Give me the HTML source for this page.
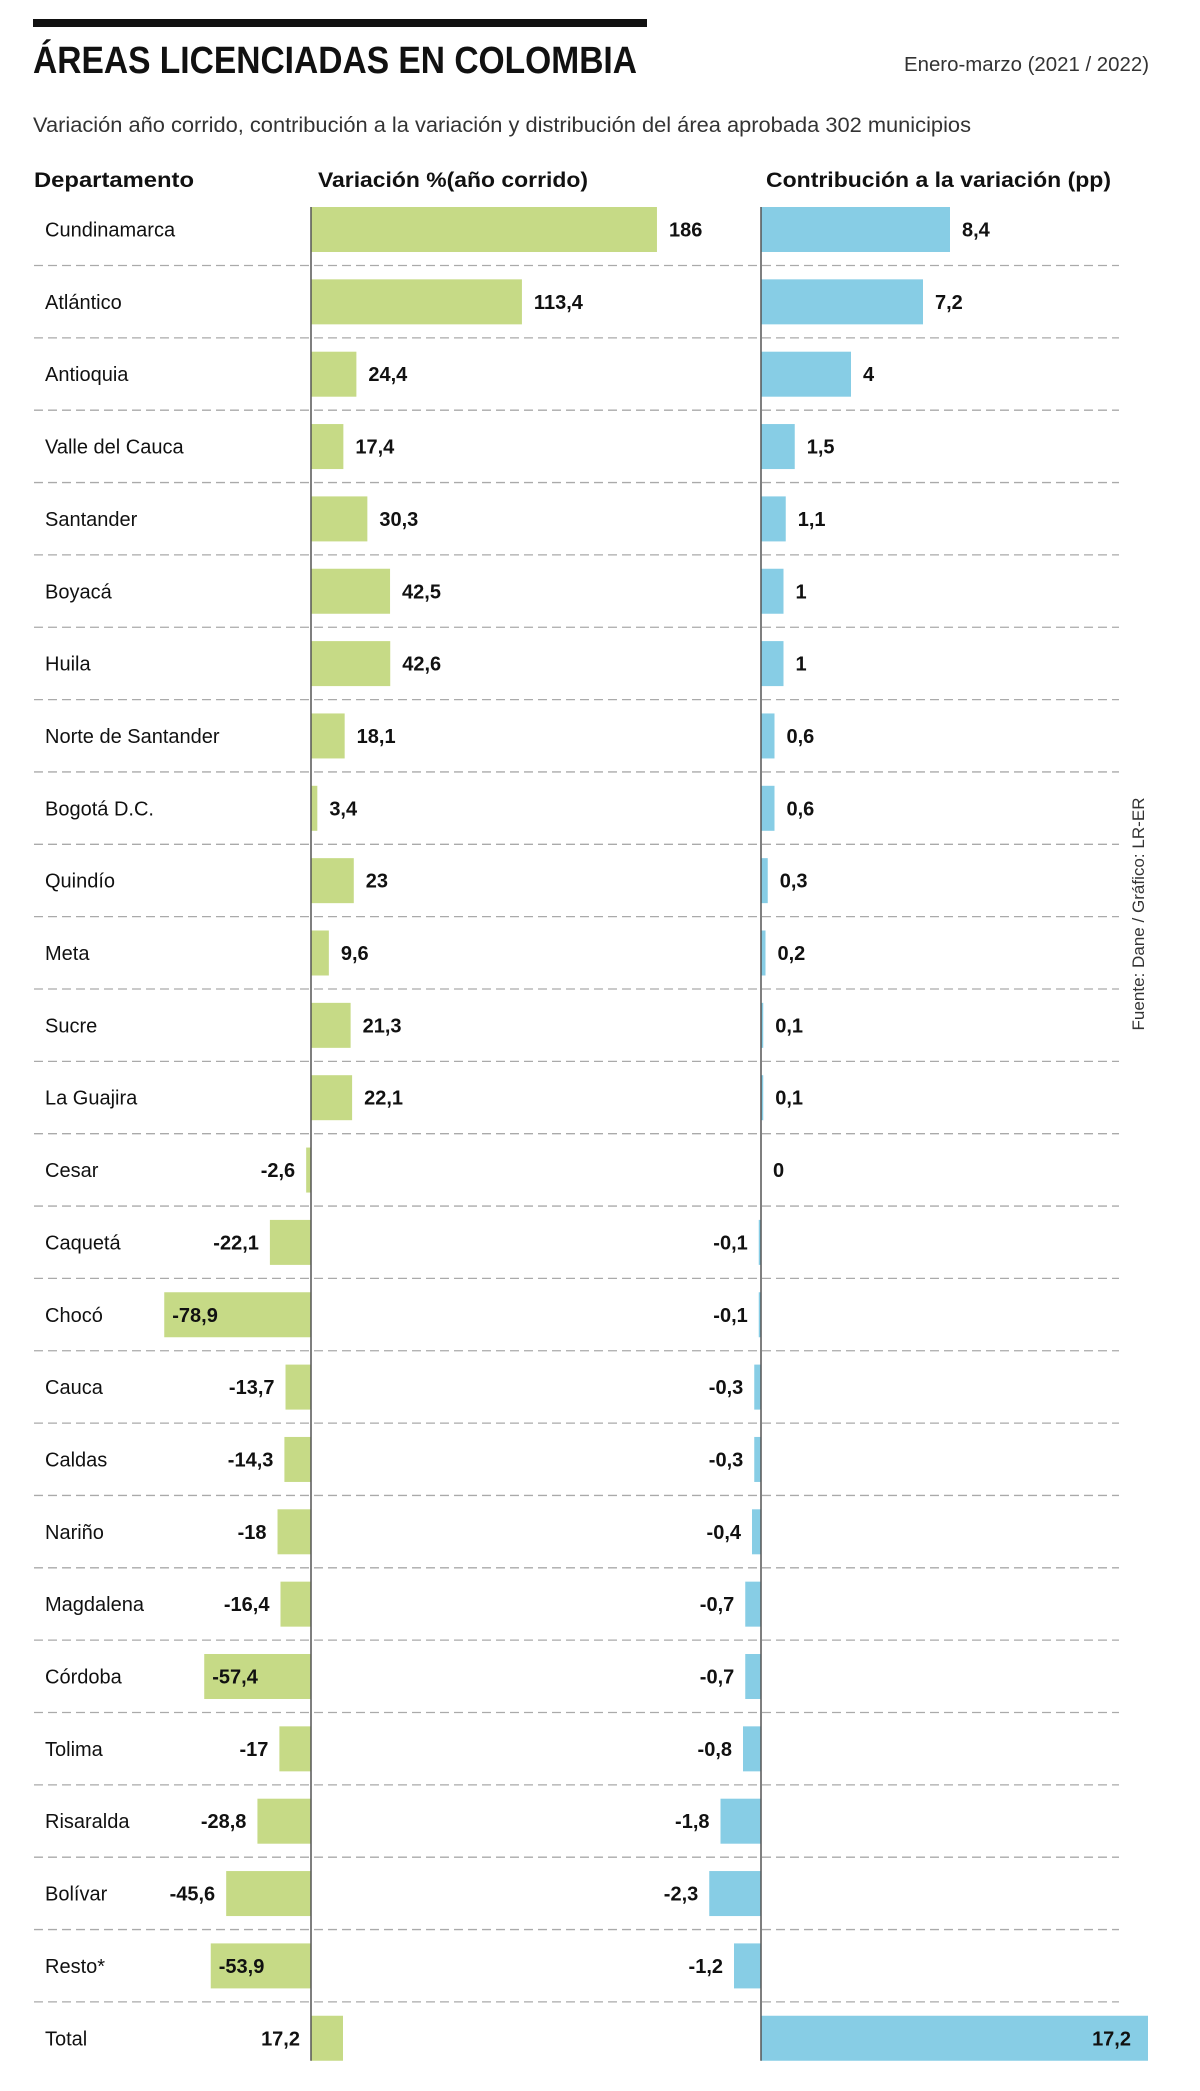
<!DOCTYPE html>
<html><head><meta charset="utf-8">
<style>
html,body{margin:0;padding:0;background:#fff;}
svg{display:block;font-family:"Liberation Sans",sans-serif;}
</style></head>
<body>
<svg id="chart" width="1200" height="2091" viewBox="0 0 1200 2091" xmlns="http://www.w3.org/2000/svg">
  <rect x="33" y="19" width="614" height="8" fill="#111"/>
  <text x="33" y="73" font-size="38" font-weight="bold" fill="#111" textLength="604" lengthAdjust="spacingAndGlyphs">ÁREAS LICENCIADAS EN COLOMBIA</text>
  <text x="1149" y="71" font-size="20" fill="#333" text-anchor="end" textLength="245" lengthAdjust="spacingAndGlyphs">Enero-marzo (2021 / 2022)</text>
  <text x="33" y="132" font-size="21" fill="#333" textLength="938" lengthAdjust="spacingAndGlyphs">Variación año corrido, contribución a la variación y distribución del área aprobada 302 municipios</text>
  <text x="34" y="187" font-size="21" font-weight="bold" fill="#111" textLength="160" lengthAdjust="spacingAndGlyphs">Departamento</text>
  <text x="318" y="187" font-size="21" font-weight="bold" fill="#111" textLength="270" lengthAdjust="spacingAndGlyphs">Variación %(año corrido)</text>
  <text x="766" y="187" font-size="21" font-weight="bold" fill="#111" textLength="345" lengthAdjust="spacingAndGlyphs">Contribución a la variación  (pp)</text>
  <text transform="translate(1144,914) rotate(-90)" font-size="17" fill="#333" text-anchor="middle" textLength="233" lengthAdjust="spacingAndGlyphs">Fuente: Dane / Gráfico: LR-ER</text>
  <g id="rows"></g>
</svg>
<script>
const categories = ["Cundinamarca","Atlántico","Antioquia","Valle del Cauca","Santander","Boyacá","Huila","Norte de Santander","Bogotá D.C.","Quindío","Meta","Sucre","La Guajira","Cesar","Caquetá","Chocó","Cauca","Caldas","Nariño","Magdalena","Córdoba","Tolima","Risaralda","Bolívar","Resto*","Total"];
const variacion = [186,113.4,24.4,17.4,30.3,42.5,42.6,18.1,3.4,23,9.6,21.3,22.1,-2.6,-22.1,-78.9,-13.7,-14.3,-18,-16.4,-57.4,-17,-28.8,-45.6,-53.9,17.2];
const contribucion = [8.4,7.2,4,1.5,1.1,1,1,0.6,0.6,0.3,0.2,0.1,0.1,0,-0.1,-0.1,-0.3,-0.3,-0.4,-0.7,-0.7,-0.8,-1.8,-2.3,-1.2,17.2];

const NS="http://www.w3.org/2000/svg";
const g=document.getElementById('rows');
const axis1=311, axis2=761, k1=1.86, k2=22.5;
const y0=229.5, step=72.35, barH=45;
const x1=v=>axis1+v*k1, x2=v=>axis2+v*k2;
const rowY=i=>y0+i*step;
const fmt=v=>String(v).replace('.',',');
function mk(tag,attrs){const e=document.createElementNS(NS,tag);for(const a in attrs)e.setAttribute(a,attrs[a]);g.appendChild(e);return e;}
function txt(x,y,s,anchor,bold,name){
  const t=mk('text',{x:x,y:y+7,'font-size':20,'text-anchor':anchor,fill:'#111','font-weight':bold?'bold':'normal'});
  t.textContent=s;
  
  
  return t;
}
categories.forEach((c,i)=>{
  const cy=rowY(i);
  if(i<categories.length-1){
    const l=mk('line',{x1:34,x2:1119,y1:cy+36,y2:cy+36,stroke:'#aaa','stroke-width':1.3,'stroke-dasharray':'9 5'});
    
    
  }
  txt(45,cy,c,'start',false,'row-label');
  const v=variacion[i];
  const b1=mk('rect',{x:Math.min(x1(0),x1(v)),y:cy-barH/2,width:Math.abs(v*k1),height:barH,fill:'#c6da86'});
  
  
  if(i===categories.length-1) txt(axis1-11,cy,fmt(v),'end',true,'variation-value');
  else if(v>=0) txt(x1(v)+12,cy,fmt(v),'start',true,'variation-value');
  else if(v<-50) txt(x1(v)+8,cy,fmt(v),'start',true,'variation-value');
  else txt(x1(v)-11,cy,fmt(v),'end',true,'variation-value');
  const w=contribucion[i];
  const b2=mk('rect',{x:Math.min(x2(0),x2(w)),y:cy-barH/2,width:Math.abs(w*k2),height:barH,fill:'#87cde5'});
  
  
  if(i===categories.length-1) txt(x2(w)-17,cy,fmt(w),'end',true,'contribution-value');
  else if(w>=0) txt(x2(w)+12,cy,fmt(w),'start',true,'contribution-value');
  else txt(x2(w)-11,cy,fmt(w),'end',true,'contribution-value');
});
const axisTop=rowY(0)-barH/2, axisBot=rowY(categories.length-1)+barH/2;
const a1=mk('line',{x1:axis1,x2:axis1,y1:axisTop,y2:axisBot,stroke:'#555','stroke-width':1.5});


const a2=mk('line',{x1:axis2,x2:axis2,y1:axisTop,y2:axisBot,stroke:'#555','stroke-width':1.5});


</script>
</body></html>
